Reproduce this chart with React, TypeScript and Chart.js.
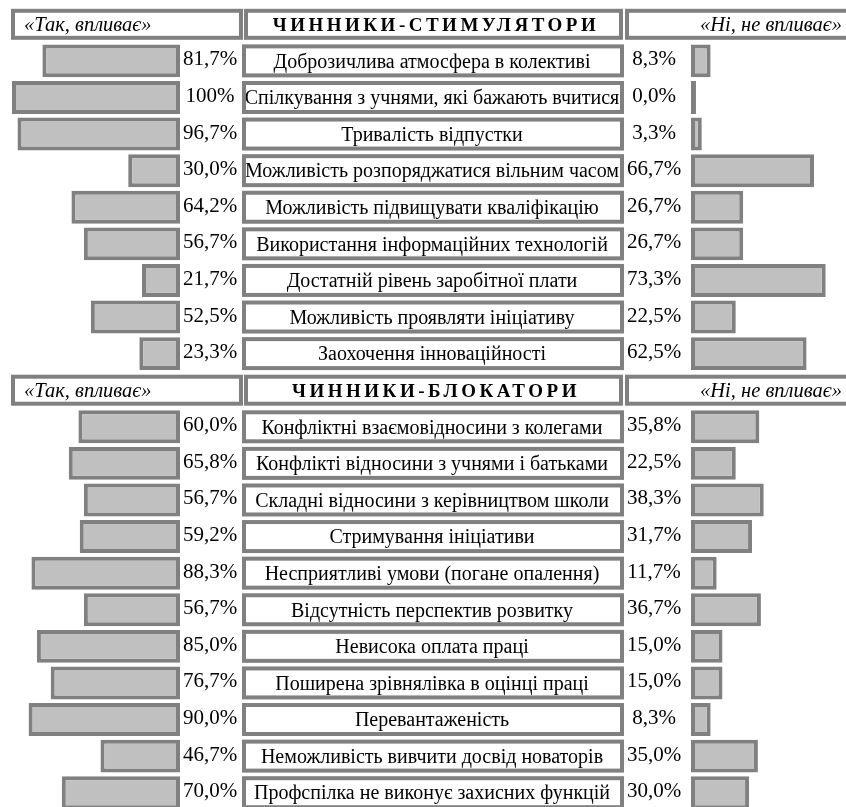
import React, { useEffect, useRef } from 'react';
import { Chart, registerables } from 'chart.js';

Chart.register(...registerables);

// ---------- data ----------
const headerYes = '«Так, впливає»';
const headerNo = '«Ні, не впливає»';
const stimTitle = 'ЧИННИКИ-СТИМУЛЯТОРИ';
const blockTitle = 'ЧИННИКИ-БЛОКАТОРИ';

const stimulators = [
  'Доброзичлива атмосфера в колективі',
  'Спілкування з учнями, які бажають вчитися',
  'Тривалість відпустки',
  'Можливість розпоряджатися вільним часом',
  'Можливість підвищувати кваліфікацію',
  'Використання інформаційних технологій',
  'Достатній рівень заробітної плати',
  'Можливість проявляти ініціативу',
  'Заохочення інноваційності',
];
const stimYes = [81.7, 100, 96.7, 30.0, 64.2, 56.7, 21.7, 52.5, 23.3];
const stimNo = [8.3, 0.0, 3.3, 66.7, 26.7, 26.7, 73.3, 22.5, 62.5];

const blockers = [
  'Конфліктні взаємовідносини з колегами',
  'Конфлікті відносини з учнями і батьками',
  'Складні відносини з керівництвом школи',
  'Стримування ініціативи',
  'Несприятливі умови (погане опалення)',
  'Відсутність перспектив розвитку',
  'Невисока оплата праці',
  'Поширена зрівнялівка в оцінці праці',
  'Перевантаженість',
  'Неможливість вивчити досвід новаторів',
  'Профспілка не виконує захисних функцій',
];
const blockYes = [60.0, 65.8, 56.7, 59.2, 88.3, 56.7, 85.0, 76.7, 90.0, 46.7, 70.0];
const blockNo = [35.8, 22.5, 38.3, 31.7, 11.7, 36.7, 15.0, 15.0, 8.3, 35.0, 30.0];

// ---------- layout / style ----------
const W = 846;
const H = 811;
const SERIF = '"Liberation Serif", "Times New Roman", serif';
const GRAY = '#808080';
const FILL = '#c0c0c0';

const L_ZERO = 180; // px where left bars start
const L_SCALE = 1.66; // px per %
const L_PAD = 1.2; // % units of minimal bar
const R_ZERO = 691;
const R_SCALE = 1.77;
const R_PAD = 2.8;

type Row =
  | { kind: 'header'; title: string }
  | { kind: 'item'; label: string; yes: number; no: number };

const rows: Row[] = [
  { kind: 'header', title: stimTitle },
  ...stimulators.map((label, i) => ({ kind: 'item' as const, label, yes: stimYes[i], no: stimNo[i] })),
  { kind: 'header', title: blockTitle },
  ...blockers.map((label, i) => ({ kind: 'item' as const, label, yes: blockYes[i], no: blockNo[i] })),
];

const fmt = (v: number) => (v === 100 ? '100%' : v.toFixed(1).replace('.', ',') + '%');

function drawBox(ctx: CanvasRenderingContext2D, x1: number, y1: number, x2: number, y2: number) {
  const bw = 4;
  ctx.fillStyle = '#ffffff';
  ctx.fillRect(x1, y1, x2 - x1, y2 - y1);
  ctx.strokeStyle = GRAY;
  ctx.lineWidth = bw;
  ctx.strokeRect(x1 + bw / 2, y1 + bw / 2, x2 - x1 - bw, y2 - y1 - bw);
}

const tablePlugin = {
  id: 'tableText',
  afterDatasetsDraw(chart: any) {
    const ctx: CanvasRenderingContext2D = chart.ctx;
    const ys = chart.scales.y;
    ctx.save();
    rows.forEach((row, i) => {
      const cy = ys.getPixelForValue(i);
      if (row.kind === 'header') {
        const y1 = cy - 15.5;
        const y2 = cy + 15.5;
        drawBox(ctx, 11, y1, 243, y2);
        drawBox(ctx, 244, y1, 623, y2);
        drawBox(ctx, 625, y1, W + 10, y2);
        ctx.fillStyle = '#000';
        ctx.textBaseline = 'middle';
        ctx.font = `italic 20.5px ${SERIF}`;
        ctx.textAlign = 'left';
        ctx.fillText(headerYes, 24, cy + 1);
        ctx.fillText(headerNo, 700, cy + 1);
        ctx.font = `bold 19px ${SERIF}`;
        (ctx as any).letterSpacing = '3.5px';
        ctx.textAlign = 'center';
        ctx.fillText(row.title, 436, cy + 2);
        (ctx as any).letterSpacing = '0px';
      } else {
        const y1 = cy - 16.5;
        const y2 = cy + 16.5;
        const bx1 = 242;
        const bx2 = 624;
        drawBox(ctx, bx1, y1, bx2, y2);
        ctx.save();
        ctx.beginPath();
        ctx.rect(bx1 + 4, y1 + 4, bx2 - bx1 - 8, y2 - y1 - 8);
        ctx.clip();
        ctx.fillStyle = '#000';
        ctx.textBaseline = 'middle';
        ctx.textAlign = 'center';
        ctx.font = `20px ${SERIF}`;
        ctx.fillText(row.label, 432, cy + 1.5);
        ctx.restore();
        ctx.fillStyle = '#000';
        ctx.textBaseline = 'middle';
        ctx.textAlign = 'center';
        ctx.font = `21px ${SERIF}`;
        ctx.fillText(fmt(row.yes), 210, cy - 1);
        ctx.fillText(fmt(row.no), 654, cy - 1);
      }
    });
    ctx.restore();
  },
};

export default function App() {
  const ref = useRef<HTMLCanvasElement | null>(null);

  useEffect(() => {
    if (!ref.current) return;
    const labels = rows.map((r) => (r.kind === 'header' ? r.title : r.label));
    const yesData = rows.map((r) => (r.kind === 'item' ? [-L_PAD, r.yes] : null));
    const noData = rows.map((r) => (r.kind === 'item' ? [-R_PAD, r.no] : null));

    const lMax = L_ZERO / L_SCALE - L_PAD;
    const lMin = lMax - W / L_SCALE;
    const rMin = -R_PAD - R_ZERO / R_SCALE;
    const rMax = rMin + W / R_SCALE;

    const chart = new Chart(ref.current, {
      type: 'bar',
      data: {
        labels,
        datasets: [
          {
            label: headerYes,
            data: yesData as any,
            xAxisID: 'xL',
            backgroundColor: FILL,
            borderColor: GRAY,
            borderWidth: 4,
            borderSkipped: false,
            grouped: false,
            categoryPercentage: 1,
            barPercentage: 0.9,
          },
          {
            label: headerNo,
            data: noData as any,
            xAxisID: 'xR',
            backgroundColor: FILL,
            borderColor: GRAY,
            borderWidth: 4,
            borderSkipped: false,
            grouped: false,
            categoryPercentage: 1,
            barPercentage: 0.9,
          },
        ],
      },
      options: {
        indexAxis: 'y',
        responsive: false,
        animation: false,
        layout: { padding: { top: 6, bottom: 0, left: 0, right: 0 } },
        plugins: { legend: { display: false }, tooltip: { enabled: false } },
        scales: {
          y: { type: 'category', display: false, offset: true },
          xL: { type: 'linear', reverse: true, min: lMin, max: lMax, display: false },
          xR: { type: 'linear', min: rMin, max: rMax, display: false },
        },
      },
      plugins: [tablePlugin],
    });
    return () => chart.destroy();
  }, []);

  return (
    <div style={{ position: 'absolute', left: 0, top: 0, width: W, height: 807, overflow: 'hidden', background: '#fff' }}>
      <canvas ref={ref} width={W} height={H} style={{ display: 'block', width: W, height: H }} />
    </div>
  );
}
